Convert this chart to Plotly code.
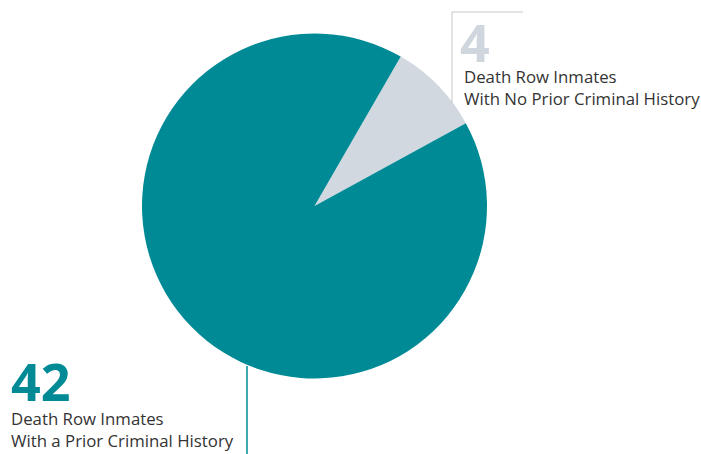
import plotly.graph_objects as go

W, H = 701, 454
labels = ["With No Prior Criminal History", "With a Prior Criminal History"]
counts = [4, 42]
caption_line1 = "Death Row Inmates"
colors = ["#d1d8e0", "#008a96"]

def px(x):
    return x / W

def py(y):
    return 1 - y / H

fig = go.Figure(go.Pie(
    labels=labels, values=counts, sort=False, direction="clockwise",
    rotation=30, textinfo="none", hoverinfo="label+value",
    marker=dict(colors=colors, line=dict(width=0)),
    domain=dict(x=[px(142), px(487)], y=[py(379), py(33)]),
    showlegend=False,
))

font = "'Open Sans', sans-serif"
ann = []
# small slice callout
ann.append(dict(x=px(458), y=py(41), text="<b>%d</b>" % counts[0], showarrow=False,
                xanchor="left", yanchor="middle",
                font=dict(family=font, size=52, color="#cfd6de")))
ann.append(dict(x=px(462), y=py(87), text=caption_line1 + "<br>" + labels[0], showarrow=False,
                xanchor="left", yanchor="middle", align="left",
                font=dict(family=font, size=16.8, color="#333333")))
# large slice callout
ann.append(dict(x=px(9), y=py(380), text="<b>%d</b>" % counts[1], showarrow=False,
                xanchor="left", yanchor="middle",
                font=dict(family=font, size=52, color="#008a96")))
ann.append(dict(x=px(9), y=py(429), text=caption_line1 + "<br>" + labels[1], showarrow=False,
                xanchor="left", yanchor="middle", align="left",
                font=dict(family=font, size=16.8, color="#333333")))

shapes = [
    dict(type="line", xref="paper", yref="paper", x0=px(452), x1=px(452), y0=py(12), y1=py(103),
         line=dict(color="#c8c8c8", width=1)),
    dict(type="line", xref="paper", yref="paper", x0=px(452), x1=px(523), y0=py(12), y1=py(12),
         line=dict(color="#c8c8c8", width=1)),
    dict(type="line", xref="paper", yref="paper", x0=px(247), x1=px(247), y0=py(366), y1=py(454),
         line=dict(color="#008a96", width=1.5)),
]

fig.update_layout(width=W, height=H, margin=dict(l=0, r=0, t=0, b=0),
                  paper_bgcolor="white", plot_bgcolor="white",
                  annotations=ann, shapes=shapes)
fig.write_html("out.html")
